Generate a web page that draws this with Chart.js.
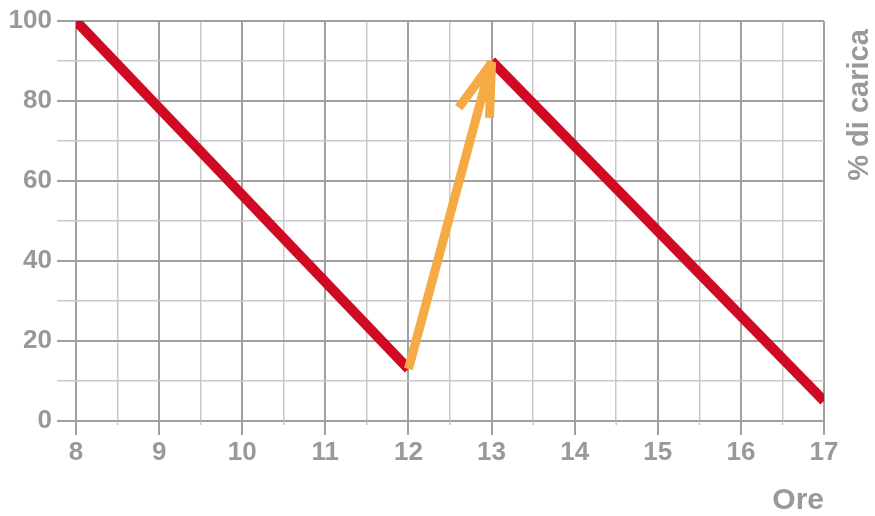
<!DOCTYPE html>
<html lang="it">
<head>
<meta charset="UTF-8">
<title>Carica</title>
<style>
  body { margin: 0; background: #fff; }
</style>
</head>
<body>
<canvas id="chart" width="875" height="516"></canvas>
<script src="https://cdn.jsdelivr.net/npm/chart.js@4.4.0/dist/chart.umd.min.js"></script>
<script>
// data
const scarica1Ore = [8, 12];
const scarica1Pct = [100, 13];
const caricaOre = [12, 13];
const caricaPct = [13, 90];
const scarica2Ore = [13, 17];
const scarica2Pct = [90, 5];

const oreTicks = [8, 9, 10, 11, 12, 13, 14, 15, 16, 17];
const pctTicks = [0, 20, 40, 60, 80, 100];

const ROSSO = '#cf0a22';
const ARANCIO = '#f5aa45';
const GRIGIO = '#999999';
const GRID_MAJ = '#a0a0a0';
const GRID_MIN = '#c9c9c9';
const FONT = "'Liberation Sans', Arial, Helvetica, sans-serif";

function punti(xs, ys) {
  return xs.map((x, i) => ({ x: x, y: ys[i] }));
}

// arrow head on the charging line + short half-hour ticks + right title
const extra = {
  id: 'extra',
  afterDatasetsDraw(chart) {
    const meta = chart.getDatasetMeta(2);
    const pts = meta.data;
    const a = pts[pts.length - 2], b = pts[pts.length - 1];
    const ang = Math.atan2(a.y - b.y, a.x - b.x);
    const c = chart.ctx;
    c.save();
    c.strokeStyle = ARANCIO;
    c.lineWidth = 9;
    c.lineCap = 'butt';
    [20, -13].forEach(d => {
      const t = ang + d * Math.PI / 180;
      c.beginPath();
      c.moveTo(b.x, b.y + 2);
      c.lineTo(b.x + 57 * Math.cos(t), b.y + 57 * Math.sin(t));
      c.stroke();
    });
    c.restore();
  },
  afterDraw(chart) {
    const c = chart.ctx;
    const xs = chart.scales.x;
    const bottom = chart.chartArea.bottom;
    c.save();
    c.strokeStyle = GRID_MIN;
    c.lineWidth = 1.5;
    for (let i = 0; i < oreTicks.length - 1; i++) {
      const px = xs.getPixelForValue(oreTicks[i] + 0.5);
      c.beginPath();
      c.moveTo(px, bottom);
      c.lineTo(px, bottom + 4);
      c.stroke();
    }
    c.fillStyle = GRIGIO;
    c.font = 'bold 29px ' + FONT;
    c.textAlign = 'center';
    c.textBaseline = 'middle';
    c.translate(860, 105);
    c.rotate(-Math.PI / 2);
    c.fillText('% di carica', 0, 0);
    c.restore();
  }
};

new Chart(document.getElementById('chart'), {
  type: 'line',
  data: {
    datasets: [
      {
        label: 'scarica',
        data: punti(scarica1Ore, scarica1Pct),
        borderColor: ROSSO,
        borderWidth: 10,
        borderCapStyle: 'butt',
        pointRadius: 0,
        order: 2
      },
      {
        label: 'scarica 2',
        data: punti(scarica2Ore, scarica2Pct),
        borderColor: ROSSO,
        borderWidth: 10,
        borderCapStyle: 'butt',
        pointRadius: 0,
        order: 2
      },
      {
        label: 'carica',
        data: punti(caricaOre, caricaPct),
        borderColor: ARANCIO,
        borderWidth: 9,
        borderCapStyle: 'butt',
        borderJoinStyle: 'miter',
        pointRadius: 0,
        order: 1
      }
    ]
  },
  options: {
    responsive: false,
    devicePixelRatio: 1,
    animation: false,
    layout: { padding: { top: 21, right: 51, bottom: 0, left: 0 } },
    plugins: {
      legend: { display: false },
      tooltip: { enabled: false }
    },
    scales: {
      x: {
        type: 'linear',
        min: oreTicks[0],
        max: oreTicks[oreTicks.length - 1],
        afterFit(s) { s.height = 95; },
        ticks: {
          stepSize: 0.5,
          autoSkip: false,
          maxRotation: 0,
          padding: 2,
          color: GRIGIO,
          font: { family: FONT, size: 26, weight: 'bold' },
          callback: v => oreTicks.includes(v) ? String(v) : ''
        },
        grid: {
          color: ctx => Number.isInteger(ctx.tick.value) ? GRID_MAJ : GRID_MIN,
          lineWidth: ctx => Number.isInteger(ctx.tick.value) ? 2 : 1.5,
          tickColor: ctx => Number.isInteger(ctx.tick.value) ? GRID_MAJ : 'rgba(0,0,0,0)',
          tickLength: 14
        },
        border: { display: false },
        title: {
          display: true,
          text: 'Ore',
          align: 'end',
          color: GRIGIO,
          padding: 0,
          font: { family: FONT, size: 30, weight: 'bold', lineHeight: 1 }
        }
      },
      y: {
        min: pctTicks[0],
        max: pctTicks[pctTicks.length - 1],
        afterFit(s) { s.width = 76; },
        ticks: {
          stepSize: 10,
          padding: 5,
          color: GRIGIO,
          font: { family: FONT, size: 26, weight: 'bold' },
          callback: v => pctTicks.includes(v) ? String(v) : ''
        },
        grid: {
          color: ctx => ctx.tick.value % 20 === 0 ? GRID_MAJ : GRID_MIN,
          lineWidth: ctx => ctx.tick.value % 20 === 0 ? 2 : 1.5,
          tickLength: 19
        },
        border: { display: false }
      }
    }
  },
  plugins: [extra]
});
</script>
</body>
</html>
